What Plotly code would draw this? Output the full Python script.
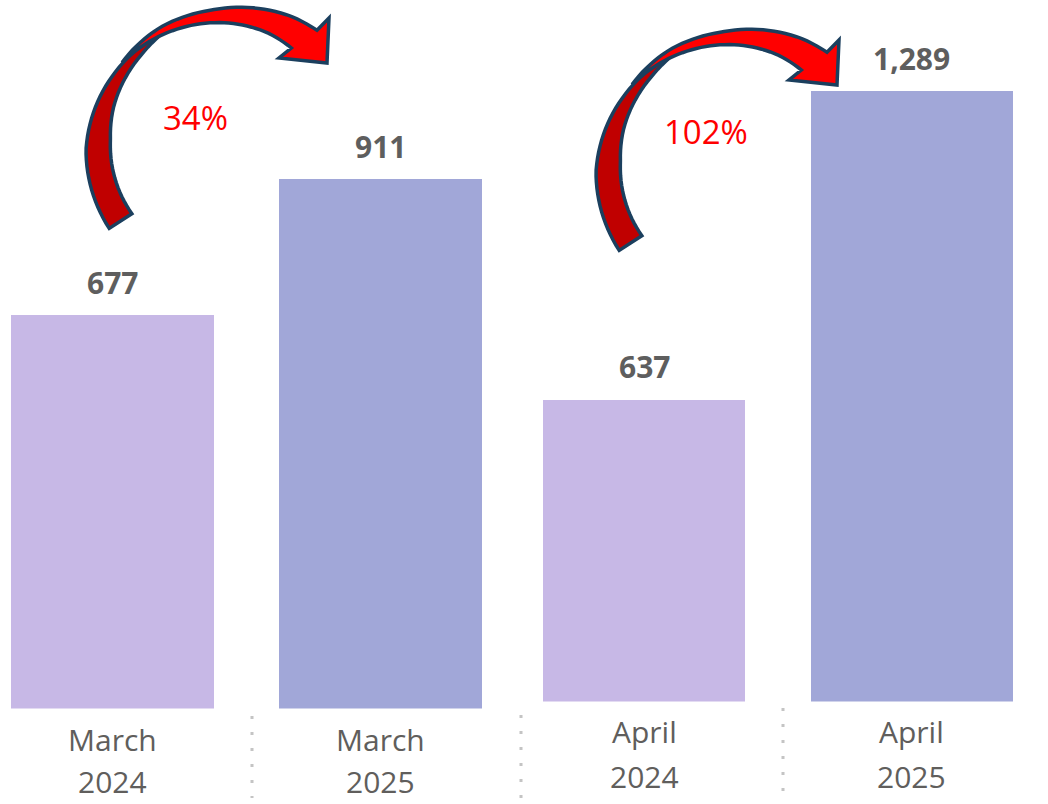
import numpy as np
import plotly.graph_objects as go

# ---- data ----
march_labels = ["March", "March"]
march_years = ["2024", "2025"]
march_values = [677, 911]
april_labels = ["April", "April"]
april_years = ["2024", "2025"]
april_values = [637, 1289]
growth_labels = ["34%", "102%"]
value_text = lambda v: f"{v:,}"

W, H = 1048, 804
C24 = "#C7B8E6"
C25 = "#A1A7D8"
LBL = "#5E5E5E"
AX = "#605E5C"
FONT = "Open Sans"

fig = go.Figure()
fig.add_trace(go.Bar(x=[0, 1], y=march_values, marker=dict(color=[C24, C25], line=dict(width=0)),
                     width=0.757, xaxis="x", yaxis="y", hoverinfo="skip"))
fig.add_trace(go.Bar(x=[0, 1], y=april_values, marker=dict(color=[C24, C25], line=dict(width=0)),
                     width=0.754, xaxis="x2", yaxis="y2", hoverinfo="skip"))

ann = []
# value labels
for i, v in enumerate(march_values):
    ann.append(dict(x=i, y=v, xref="x", yref="y", text=f"<b>{value_text(v)}</b>", showarrow=False,
                    yanchor="middle", yshift=33, font=dict(family=FONT, size=30, color=LBL)))
for i, v in enumerate(april_values):
    ann.append(dict(x=i, y=v, xref="x2", yref="y2", text=f"<b>{value_text(v)}</b>", showarrow=False,
                    yanchor="middle", yshift=33, font=dict(family=FONT, size=30, color=LBL)))
# category labels
for i, (m, yr) in enumerate(zip(march_labels, march_years)):
    ann.append(dict(x=i, y=0, xref="x", yref="y", text=m, showarrow=False, yanchor="middle",
                    yshift=-31, font=dict(family=FONT, size=30, color=AX)))
    ann.append(dict(x=i, y=0, xref="x", yref="y", text=yr, showarrow=False, yanchor="middle",
                    yshift=-73, font=dict(family=FONT, size=30, color=AX)))
for i, (m, yr) in enumerate(zip(april_labels, april_years)):
    ann.append(dict(x=i, y=0, xref="x2", yref="y2", text=m, showarrow=False, yanchor="middle",
                    yshift=-30, font=dict(family=FONT, size=30, color=AX)))
    ann.append(dict(x=i, y=0, xref="x2", yref="y2", text=yr, showarrow=False, yanchor="middle",
                    yshift=-75, font=dict(family=FONT, size=30, color=AX)))
# growth labels
for (px, py), t in zip([(195, 118), (706, 131)], growth_labels):
    ann.append(dict(x=px / W, y=1 - py / H, xref="paper", yref="paper", text=t, showarrow=False,
                    xanchor="center", yanchor="middle", font=dict(family=FONT, size=33, color="#FF0000")))


def P(x, y):
    return (x / W, 1 - y / H)


def arc_pts(cx, cy, ths, rs, dx, dy):
    pts = []
    for t, r in zip(ths, rs):
        a = np.radians(t)
        pts.append(P(cx + r * np.cos(a) + dx, cy - r * np.sin(a) + dy))
    return pts


def path_from(pts):
    return "M " + " L ".join(f"{x:.5f},{y:.5f}" for x, y in pts) + " Z"


def arrow_shapes(dx, dy):
    cx, cy = 230, 150
    shapes = []
    # lower (darker) band
    th = np.linspace(213, 119, 40)
    r_out = np.interp(th, [119, 133, 148, 180, 213], [137, 137, 139, 144, 144])
    r_in = np.interp(th, [119, 122, 133, 146, 160, 175, 213], [136, 134, 130, 127, 124, 120, 117])
    pts = arc_pts(cx, cy, th, r_out, dx, dy) + arc_pts(cx, cy, th[::-1], r_in[::-1], dx, dy)
    shapes.append(dict(type="path", xref="paper", yref="paper", path=path_from(pts),
                       fillcolor="#C00000", line=dict(color="#1B3F5E", width=3.5), layer="above"))
    # upper (bright) band with head
    th2 = np.linspace(141, 54, 40)
    r_out2 = np.interp(th2, [54, 65, 81, 98, 120, 141], [148, 147, 144, 141, 141, 139])
    th3 = np.linspace(141, 59, 40)
    r_in2 = np.interp(th3, [59, 72, 91, 114, 130, 141], [119, 123, 127, 132, 136, 139])
    head = [P(329 + dx, 18 + dy), P(327 + dx, 63 + dy), P(279 + dx, 58 + dy)]
    pts2 = arc_pts(cx, cy, th2, r_out2, dx, dy) + head + arc_pts(cx, cy, th3[::-1], r_in2[::-1], dx, dy)
    shapes.append(dict(type="path", xref="paper", yref="paper", path=path_from(pts2),
                       fillcolor="#FF0000", line=dict(color="#1B3F5E", width=3.5), layer="above"))
    return shapes


shapes = arrow_shapes(0, 0) + arrow_shapes(510, 22)
# dotted separators
for x0, y0, y1 in [(252, 716, 798), (521, 715, 798), (783, 708, 804)]:
    shapes.append(dict(type="line", xref="paper", yref="paper", x0=x0 / W, x1=x0 / W,
                       y0=1 - y0 / H, y1=1 - y1 / H,
                       line=dict(color="#C4C4C4", width=3, dash="3px,13px")))

fig.update_layout(
    width=W, height=H, autosize=False,
    margin=dict(l=0, r=0, t=0, b=0),
    paper_bgcolor="white", plot_bgcolor="white",
    showlegend=False, bargap=0,
    xaxis=dict(domain=[0, 520 / W], range=[-0.4198, 1.5205], visible=False, fixedrange=True, anchor="y"),
    xaxis2=dict(domain=[520 / W, 1], range=[-0.4627, 1.5075], visible=False, fixedrange=True, anchor="y2"),
    yaxis=dict(domain=[(H - 708.5) / H, 1], range=[0, 708.5 / 0.5812], visible=False, fixedrange=True,
               anchor="x"),
    yaxis2=dict(domain=[(H - 701.5) / H, 1], range=[0, 701.5 / 0.4735], visible=False, fixedrange=True,
                anchor="x2"),
    annotations=ann,
    shapes=shapes,
)

fig.write_html("out.html", config={"displayModeBar": False},
               post_script="document.body.style.margin='0';document.body.style.overflow='hidden';")
